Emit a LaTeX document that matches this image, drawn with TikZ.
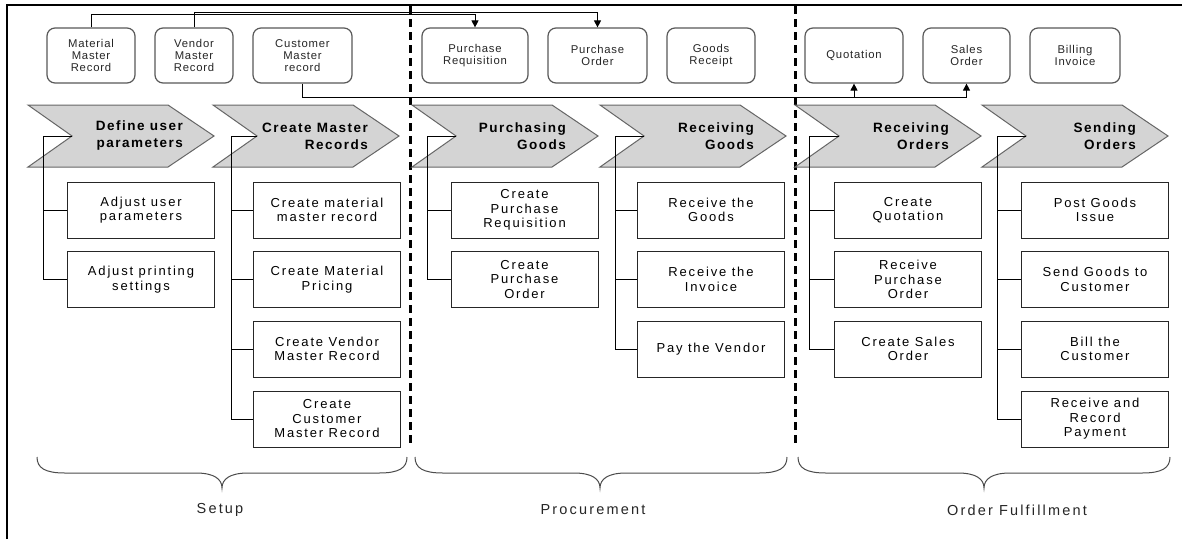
\documentclass[tikz,border=0pt]{standalone}
\usepackage{fontspec}
\setmainfont{Liberation Sans}
\newfontfamily\boxfont[LetterSpace=14]{Liberation Sans}
\newfontfamily\topfont[LetterSpace=7]{Liberation Sans}
\newfontfamily\chevfont[LetterSpace=11]{Liberation Sans}
\newfontfamily\labfont[LetterSpace=15]{Liberation Sans}
\usetikzlibrary{arrows.meta}
\begin{document}
\begin{tikzpicture}[x=1pt,y=-1pt,
  doc/.style={draw=black!65, line width=1.2pt, rounded corners=8pt, fill=white, inner sep=0pt, align=center, minimum height=55pt, font=\topfont\fontsize{11.3}{12.2}\selectfont, text=black!85},
  task/.style={draw=black!85, line width=1pt, inner sep=0pt, align=center, font=\boxfont\fontsize{13}{14.5}\selectfont, minimum height=56pt, minimum width=147pt},
  chev/.style={draw=black!60, line width=1pt, fill=black!17},
  chevtext/.style={anchor=east, align=right, font=\chevfont\bfseries\fontsize{13.5}{17}\selectfont, inner sep=0pt},
  conn/.style={draw=black, line width=0.9pt},
  arr/.style={conn, -{Triangle[width=7pt,length=7pt]}},
  divider/.style={line width=3pt, dash pattern=on 8pt off 5pt},
  brace/.style={draw=black!70, line width=1pt},
  phase/.style={font=\labfont\fontsize{14.5}{16}\selectfont, text=black!85}
]
\useasboundingbox (0,0) rectangle (1182,539);
\fill[white] (0,0) rectangle (1182,539);

% frame
\draw[line width=2.5pt] (7,539) -- (7,5) -- (1182,5);

% dividers
\draw[divider] (410,6) -- (410,445);
\draw[divider] (795,6) -- (795,445);

% top documents
\node[doc, minimum width=88pt] (mmr) at (91,55.5) {Material\\Master\\Record};
\node[doc, minimum width=78pt] (vmr) at (194,55.5) {Vendor\\Master\\Record};
\node[doc, minimum width=99pt] (cmr) at (302.5,55.5) {Customer\\Master\\record};
\node[doc, minimum width=106pt] (preq) at (475,55.5) {Purchase\\Requisition};
\node[doc, minimum width=99pt] (po) at (597.5,55.5) {Purchase\\Order};
\node[doc, minimum width=88pt] (gr) at (711,55.5) {Goods\\Receipt};
\node[doc, minimum width=98pt] (quo) at (854,55.5) {Quotation};
\node[doc, minimum width=87pt] (so) at (966.5,55.5) {Sales\\Order};
\node[doc, minimum width=90pt] (bi) at (1075,55.5) {Billing\\Invoice};

% top connectors
\draw[arr] (mmr.north) -- ++(0,-13) -| (preq.north);
\draw[arr] (vmr.north) -- ++(0,-15) -| (po.north);
\path (cmr.south) ++(0,14) coordinate (cj);
\draw[arr] (cmr.south) -- (cj) -| (so.south);
\draw[arr] (cj -| quo.south) -- (quo.south);

% chevrons
\foreach \L in {28,213,412,600,795,982}
  \draw[chev] (\L,105) -- (\L+140,105) -- (\L+186,136) -- (\L+140,167) -- (\L,167) -- (\L+44,136) -- cycle;

\node[chevtext] (c1) at (183,136) {Define user\\parameters};
\node[chevtext] (c2) at (368,136) {Create Master\\Records};
\node[chevtext] (c3) at (566,136) {Purchasing\\Goods};
\node[chevtext] (c4) at (754,136) {Receiving\\Goods};
\node[chevtext] (c5) at (949,136) {Receiving\\Orders};
\node[chevtext] (c6) at (1136,136) {Sending\\Orders};

\coordinate (n1) at (72,136);
\coordinate (n2) at (257,136);
\coordinate (n3) at (456,136);
\coordinate (n4) at (644,136);
\coordinate (n5) at (839,136);
\coordinate (n6) at (1026,136);
\coordinate (v1) at (43,136);
\coordinate (v2) at (231,136);
\coordinate (v3) at (427,136);
\coordinate (v4) at (615,136);
\coordinate (v5) at (809,136);
\coordinate (v6) at (997,136);

% task boxes
\node[task] (t11) at (141,210) {Adjust user\\parameters};
\node[task] (t12) at (141,279.5) {Adjust printing\\settings};

\node[task] (t21) at (327,210) {Create material\\master record};
\node[task] (t22) at (327,279.5) {Create Material\\Pricing};
\node[task] (t23) at (327,349) {Create Vendor\\Master Record};
\node[task] (t24) at (327,419) {Create\\Customer\\Master Record};

\node[task] (t31) at (524.5,210) {Create\\Purchase\\Requisition};
\node[task] (t32) at (524.5,279.5) {Create\\Purchase\\Order};

\node[task] (t41) at (711,210) {Receive the\\Goods};
\node[task] (t42) at (711,279.5) {Receive the\\Invoice};
\node[task] (t43) at (711,349) {Pay the Vendor};

\node[task] (t51) at (908,210) {Create\\Quotation};
\node[task] (t52) at (908,279.5) {Receive\\Purchase\\Order};
\node[task] (t53) at (908,349) {Create Sales\\Order};

\node[task] (t61) at (1095,210) {Post Goods\\Issue};
\node[task] (t62) at (1095,279.5) {Send Goods to\\Customer};
\node[task] (t63) at (1095,349) {Bill the\\Customer};
\node[task] (t64) at (1095,419) {Receive and\\Record\\Payment};

% branch connectors
\draw[conn] (n1) -- (v1) |- (t12.west);
\draw[conn] (v1 |- t11.west) -- (t11.west);

\draw[conn] (n2) -- (v2) |- (t24.west);
\foreach \t in {t21,t22,t23} \draw[conn] (v2 |- \t.west) -- (\t.west);

\draw[conn] (n3) -- (v3) |- (t32.west);
\draw[conn] (v3 |- t31.west) -- (t31.west);

\draw[conn] (n4) -- (v4) |- (t43.west);
\foreach \t in {t41,t42} \draw[conn] (v4 |- \t.west) -- (\t.west);

\draw[conn] (n5) -- (v5) |- (t53.west);
\foreach \t in {t51,t52} \draw[conn] (v5 |- \t.west) -- (\t.west);

\draw[conn] (n6) -- (v6) |- (t64.west);
\foreach \t in {t61,t62,t63} \draw[conn] (v6 |- \t.west) -- (\t.west);

% braces
\foreach \a/\m/\b in {37/222/407, 415/600/787, 798/984/1170}
  \draw[brace] (\a,457) .. controls (\a,468) and (\a+8,473) .. (\a+28,473) -- (\m-26,473)
    .. controls (\m-8,473) and (\m,479) .. (\m,488)
    .. controls (\m,479) and (\m+8,473) .. (\m+26,473) -- (\b-28,473)
    .. controls (\b-8,473) and (\b,468) .. (\b,457);

\node[phase] (setup) at (220,510) {Setup};
\node[phase] (proc) at (593,510) {Procurement};
\node[phase] (ofull) at (1017,510) {Order Fulfillment};
\end{tikzpicture}
\end{document}
